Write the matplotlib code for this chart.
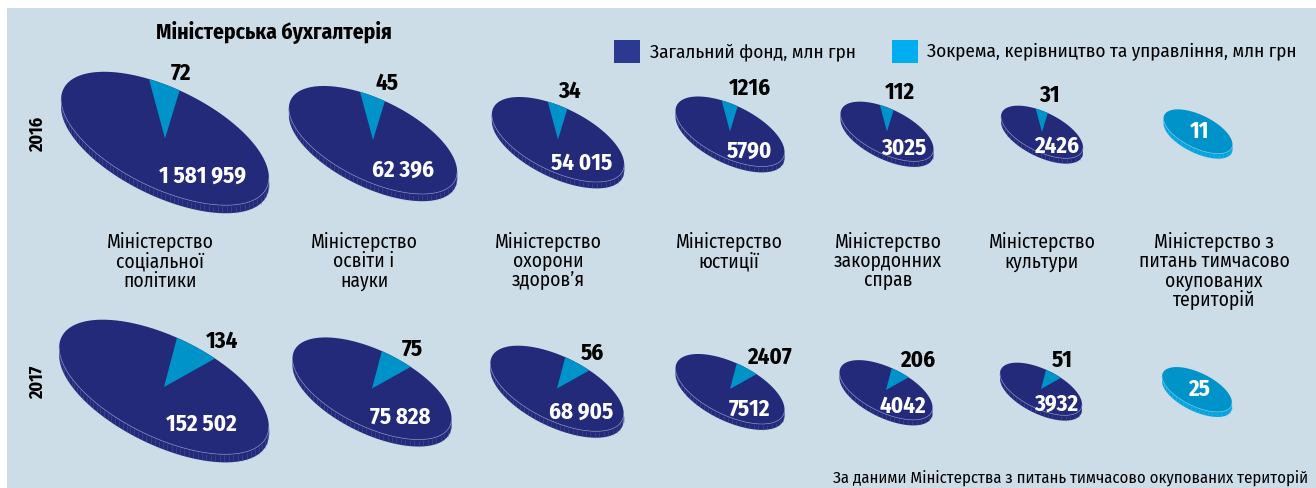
import numpy as np
import matplotlib
matplotlib.use("Agg")
import matplotlib.pyplot as plt
from matplotlib import font_manager
from matplotlib.collections import LineCollection
from matplotlib.patches import Polygon, Rectangle, Wedge
from matplotlib.transforms import Affine2D

# --- data -------------------------------------------------------------
ministries = [
    "Міністерство\nсоціальної\nполітики",
    "Міністерство\nосвіти і\nнауки",
    "Міністерство\nохорони\nздоров’я",
    "Міністерство\nюстиції",
    "Міністерство\nзакордонних\nсправ",
    "Міністерство\nкультури",
    "Міністерство з\nпитань тимчасово\nокупованих\nтериторій",
]
years = ["2016", "2017"]
general_2016 = [1581959, 62396, 54015, 5790, 3025, 2426, 0]
management_2016 = [72, 45, 34, 1216, 112, 31, 11]
general_2017 = [152502, 75828, 68905, 7512, 4042, 3932, 0]
management_2017 = [134, 75, 56, 2407, 206, 51, 25]

title = "Міністерська бухгалтерія"
legend_labels = ["Загальний фонд, млн грн", "Зокрема, керівництво та управління, млн грн"]
source = "За даними Міністерства з питань тимчасово окупованих територій"

# --- layout / style ---------------------------------------------------
W, H = 1316, 488
BG = "#cddde7"
NAVY = "#232a7a"
NAVY_TICK = "#5b62a8"
LIGHT = "#0093c9"
LIGHT_SIDE = "#08a2dc"
LIGHT_TICK = "#4cc0ea"
LEG_NAVY = "#2b3990"
LEG_LIGHT = "#00aeef"

TILT = 26.0       # rotation of disc major axis, degrees
FLAT = 0.44       # minor / major
col_x = {"2016": [165, 373, 558, 730, 887, 1042, 1198],
         "2017": [164, 372, 557, 730, 886, 1041, 1197]}
col_y = {"2016": [138.5, 140, 139.5, 131.5, 131.5, 132, 131.5],
         "2017": [387, 388.5, 388.5, 389, 390, 389, 389.5]}
radius = {"2016": [113, 91.5, 72, 59.3, 50.6, 44.6, 37.5],
          "2017": [114, 86.5, 72.5, 59.3, 50.6, 44.6, 38]}
wedge_span = {"2016": (-111, -94), "2017": (-95, -73)}
year_y = {"2016": 134, "2017": 382}
label_x = [160, 364, 548, 729, 888, 1042, 1214]

available = {f.name for f in font_manager.fontManager.ttflist}
COND = next((f for f in ["Fira Sans Condensed", "Roboto Condensed", "PT Sans Narrow",
                         "Open Sans Condensed", "Barlow Condensed"] if f in available), "DejaVu Sans")
FONT = [COND, "DejaVu Sans"]


def fmt(v):
    return f"{v:,}".replace(",", " ") if v >= 10000 else str(v)


def outline(cx, cy, a, n=720):
    b = a * FLAT
    phi = np.linspace(0, 2 * np.pi, n, endpoint=False)
    t = np.radians(TILT)
    x = cx + a * np.cos(phi) * np.cos(t) - b * np.sin(phi) * np.sin(t)
    y = cy + a * np.cos(phi) * np.sin(t) + b * np.sin(phi) * np.cos(t)
    return np.column_stack([x, y])


def lower_arc(pts):
    i_left = int(np.argmin(pts[:, 0]))
    pts = np.roll(pts, -i_left, axis=0)
    i_right = int(np.argmax(pts[:, 0]))
    first, second = pts[: i_right + 1], np.vstack([pts[i_right:], pts[:1]])
    return first if first[:, 1].mean() > second[:, 1].mean() else second[::-1]


def disc_transform(ax, cx, cy, a):
    return Affine2D().scale(a, a * FLAT).rotate_deg(TILT).translate(cx, cy) + ax.transData


def draw_disc(ax, cx, cy, a, top, side, tick, rim):
    depth = 3.5 + 0.04 * a
    pts = outline(cx, cy, a)
    arc = lower_arc(pts)
    band = np.vstack([arc, (arc + [0, depth])[::-1]])
    ax.add_patch(Polygon(band, closed=True, facecolor=side, edgecolor="none", zorder=2))
    seg_len = np.r_[0, np.cumsum(np.hypot(*np.diff(arc, axis=0).T))]
    marks = np.arange(2, seg_len[-1], 4.5)
    mx = np.interp(marks, seg_len, arc[:, 0])
    my = np.interp(marks, seg_len, arc[:, 1])
    segs = [[(x, y + 1), (x, y + depth)] for x, y in zip(mx, my)]
    ax.add_collection(LineCollection(segs, colors=tick, linewidths=0.45, alpha=0.55, zorder=3))
    ax.add_patch(Polygon(pts, closed=True, facecolor=top, edgecolor="none", zorder=4))
    ax.plot(arc[:, 0], arc[:, 1], color=rim, lw=0.5, zorder=5)


fig = plt.figure(figsize=(W / 100, H / 100), dpi=100)
ax = fig.add_axes([0, 0, 1, 1])
ax.set_xlim(0, W)
ax.set_ylim(H, 0)
ax.axis("off")
ax.add_patch(Rectangle((7, 8), W - 7, H - 8, facecolor=BG, edgecolor="none", zorder=0))

values = {"2016": (general_2016, management_2016), "2017": (general_2017, management_2017)}
for year in years:
    general, management = values[year]
    for i, (g, m) in enumerate(zip(general, management)):
        cx, cy, a = col_x[year][i], col_y[year][i], radius[year][i]
        if g == 0:
            # whole budget is management: fully light disc
            draw_disc(ax, cx, cy, a, LIGHT, LIGHT_SIDE, LIGHT_TICK, "#5fc6ee")
            ax.text(cx + 2, cy, fmt(m), color="white", fontsize=16.5, fontweight="bold",
                    family=FONT, ha="center", va="center", zorder=7)
            continue
        draw_disc(ax, cx, cy, a, NAVY, NAVY, NAVY_TICK, "#7d84c0")
        th1, th2 = wedge_span[year]
        ax.add_patch(Wedge((0, 0), 1, th1, th2, facecolor=LIGHT, edgecolor="none",
                           transform=disc_transform(ax, cx, cy, a), zorder=5))
        tip = disc_transform(ax, cx, cy, a).transform((np.cos(np.radians(th2)), np.sin(np.radians(th2))))
        tip = ax.transData.inverted().transform(tip)
        ax.text(tip[0] - 9, tip[1] - 6, fmt(m), color="black", fontsize=16.5, fontweight="bold",
                family=FONT, ha="left", va="bottom", zorder=7)
        ax.text(cx + 0.33 * a, cy + 0.33 * a, fmt(g), color="white", fontsize=16.5, fontweight="bold",
                family=FONT, ha="center", va="center", zorder=7)
    ax.text(38, year_y[year], year, rotation=90, fontsize=13, fontweight="bold", family=FONT,
            ha="center", va="center", color="black")

for x, name in zip(label_x, ministries):
    ax.text(x, 232, name, fontsize=14, family=FONT, ha="center", va="top",
            linespacing=0.98, color="black")

ax.text(274, 32, title, fontsize=15.5, fontweight="bold", family=FONT, ha="center", va="center")

ax.add_patch(Rectangle((614, 40), 26, 23, facecolor=LEG_NAVY, edgecolor="none"))
ax.text(650, 52, legend_labels[0], fontsize=13.8, family=FONT, ha="left", va="center")
ax.add_patch(Rectangle((892, 40), 26, 23, facecolor=LEG_LIGHT, edgecolor="none"))
ax.text(927, 52, legend_labels[1], fontsize=13.8, family=FONT, ha="left", va="center")

ax.text(1308, 479, source, fontsize=12, family=FONT, ha="right", va="center")

fig.savefig("out.png", dpi=100)
